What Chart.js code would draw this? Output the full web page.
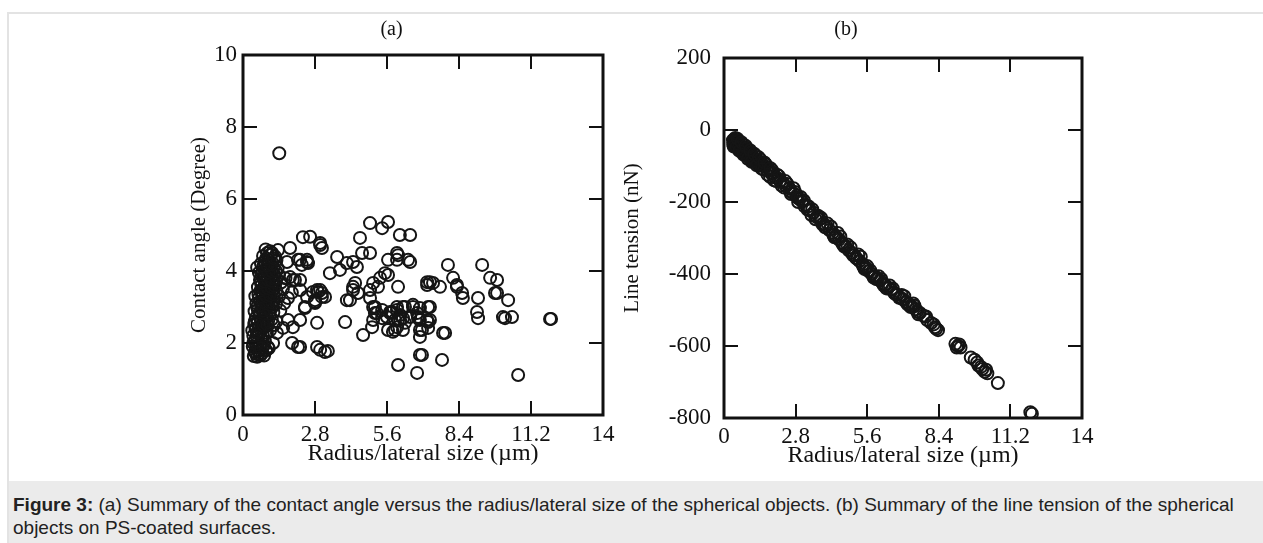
<!DOCTYPE html>
<html>
<head>
<meta charset="utf-8">
<script src="https://cdn.jsdelivr.net/npm/chart.js@4/dist/chart.umd.min.js"></script>
<style>
    body { margin: 0; width: 1263px; height: 543px; overflow: hidden; background: #fff; position: relative; }
    #frame { position: absolute; left: 7px; top: 12px; right: 0; bottom: 0; border-left: 2px solid #e3e3e3; border-top: 2px solid #e3e3e3; }
    #chartA { position: absolute; left: 180px; top: 0; }
    #chartB { position: absolute; left: 610px; top: 0; }
    #caption { position: absolute; left: 9px; top: 481px; right: 0; bottom: 0; background: #ebebeb;
        font-family: "Liberation Sans", Arial, sans-serif; font-size: 19px; color: #222; line-height: 23px; padding: 12px 0 0 4px; }
</style>
</head>
<body>
<div id="frame"></div>
<canvas id="chartA" width="486" height="480"></canvas>
<canvas id="chartB" width="586" height="480"></canvas>
<div id="caption"><b>Figure 3:</b> (a) Summary of the contact angle versus the radius/lateral size of the spherical objects. (b) Summary of the line tension of the spherical<br>objects on PS-coated surfaces.</div>
<script>
// tick labels
const radiusTicks = [0, 2.8, 5.6, 8.4, 11.2, 14];
const angleTicks = [0, 2, 4, 6, 8, 10];
const tensionTicks = [-800, -600, -400, -200, 0, 200];

// (a) contact angle vs radius
const angleRadius = [
    1.41, 2.33, 2.61, 3.0, 3.07, 4.55, 4.94, 5.41, 5.64, 6.1, 6.5,
    3.66, 3.38, 3.77, 4.04, 4.28, 4.43, 4.63, 4.94,
    4.04, 4.36, 4.28, 3.97, 4.67,
    5.06, 5.25, 5.33, 5.52, 5.64,
    5.06, 5.13, 5.06, 5.02,
    5.41, 5.79, 5.91, 6.11, 6.3, 5.99, 6.22,
    6.03, 5.99, 6.03, 6.42, 6.03, 5.99,
    6.61, 6.77, 6.88, 6.96, 6.88, 6.88, 6.77, 6.03,
    2.88, 2.41, 2.8, 2.92, 3.07, 2.88, 3.0, 3.19, 3.3, 1.91, 2.14, 2.22, 1.94,
    1.83, 2.02, 2.22, 2.49, 1.83, 2.14, 2.49, 1.36, 1.71,
    7.16, 7.66, 8.32, 8.52, 8.55, 9.14, 9.1, 9.14, 9.8, 10.31,
    10.11, 10.46, 10.19, 11.94, 11.98, 10.7,
    7.78, 6.96, 7.74,
    6.3, 6.61, 7.27, 5.72, 6.22, 6.81, 7.2, 5.91, 6.88,
    7.97, 9.3, 9.61, 9.88, 9.88, 7.27, 8.17, 8.32, 7.27, 7.2, 7.86,
    4.28, 4.16, 4.47, 4.94, 5.64, 5.99, 6.5,
    4.94, 5.13, 5.21, 5.41, 5.72, 5.64, 5.6,
    5.99, 6.22, 6.88, 7.2, 6.11, 6.5, 6.81, 7.16, 5.83,
    7.16, 7.39, 3.0, 2.22, 2.49, 2.72, 3.0, 3.19, 2.41, 2.8, 2.22,
    0.42, 0.55, 0.68, 0.82, 0.47, 0.6, 0.75, 0.9, 0.38, 0.52, 0.66, 0.8, 1.0, 0.45, 0.58,
    0.71, 0.85, 0.4, 0.53, 0.64, 0.78, 0.93, 0.36, 0.49, 0.62, 0.75, 0.88, 1.05, 1.2, 0.44,
    0.56, 0.7, 0.84, 0.98, 1.12, 1.3, 0.5, 0.63, 0.77, 0.9, 1.04, 1.18, 1.45, 0.45, 0.58,
    0.72, 0.86, 1.0, 1.14, 1.28, 1.6, 0.52, 0.66, 0.8, 0.94, 1.08, 1.22, 1.4, 1.75, 0.48,
    0.6, 0.74, 0.88, 1.02, 1.16, 1.3, 1.55, 1.9,
    0.58, 0.72, 0.86, 1.0, 1.14, 1.28, 1.48, 0.66, 0.8, 0.94, 1.08, 1.22, 1.4, 1.65, 0.62,
    0.76, 0.9, 1.04, 1.18, 1.35, 0.55, 0.7, 0.85, 1.0, 1.15, 1.3, 0.78, 0.95, 1.1, 1.25,
    0.88, 1.05,
    0.78, 1.13, 1.32, 1.56, 1.75, 0.97, 1.17, 2.29, 2.53, 1.94, 2.22, 2.88, 3.07, 2.8,
    0.5, 0.62, 0.4, 0.7, 0.58, 0.7, 0.46, 0.8, 0.95, 0.65, 0.78, 0.92, 1.06, 0.55, 0.7,
    0.86, 1.0, 1.15, 0.62, 0.76, 0.9, 1.05, 1.2, 0.68, 0.82, 0.96, 1.1, 1.24, 0.7, 0.84,
    0.98, 1.12, 1.3, 0.72, 0.86, 1.0, 1.14, 1.28, 0.8, 0.95, 1.1, 0.9, 1.2
];
const angleValues = [
    7.27, 4.94, 4.95, 4.78, 4.64, 4.92, 5.33, 5.19, 5.36, 5.0, 5.0,
    4.39, 3.94, 4.03, 4.22, 4.25, 4.11, 4.5, 4.5,
    3.19, 3.67, 3.56, 2.58, 2.22,
    3.67, 3.56, 3.81, 3.94, 3.89,
    3.0, 2.83, 2.64, 2.44,
    2.92, 2.86, 2.64, 2.78, 2.56, 2.44, 2.36,
    3.56, 3.0, 2.64, 4.31, 4.44, 4.31,
    3.0, 2.83, 2.64, 2.36, 2.17, 1.67, 1.17, 1.39,
    2.56, 3.0, 3.19, 3.42, 3.28, 1.89, 1.81, 1.75, 1.78, 2.0, 1.89, 2.64, 2.44,
    3.83, 3.75, 3.47, 3.28, 4.64, 4.31, 4.31, 4.58, 4.25,
    3.61, 3.56, 3.56, 3.39, 3.25, 3.25, 2.86, 2.69, 3.39, 3.19,
    2.72, 2.72, 2.69, 2.67, 2.67, 1.11,
    2.28, 1.67, 1.53,
    3.0, 3.06, 3.0, 2.83, 2.69, 2.72, 2.58, 2.36, 2.36,
    4.17, 4.17, 3.81, 3.75, 3.39, 3.69, 3.81, 3.61, 2.64, 2.42, 2.28,
    3.47, 3.19, 3.39, 3.47, 4.31, 4.5, 4.25,
    3.25, 3.0, 2.83, 2.69, 2.86, 2.36, 2.72,
    2.92, 3.0, 2.97, 3.0, 2.64, 2.72, 2.69, 2.64, 2.31,
    3.69, 3.67, 4.72, 4.31, 4.25, 3.42, 3.47, 3.28, 2.97, 3.14, 1.89,
    1.64, 1.62, 1.66, 1.65, 1.75, 1.78, 1.72, 1.8, 1.9, 1.88, 1.95, 1.92, 1.85, 2.05, 2.02,
    2.1, 2.05, 2.2, 2.18, 2.25, 2.2, 2.28, 2.35, 2.38, 2.42, 2.4, 2.45, 2.35, 2.5, 2.52,
    2.55, 2.6, 2.58, 2.62, 2.66, 2.6, 2.7, 2.75, 2.72, 2.8, 2.78, 2.85, 2.9, 2.88, 2.92,
    2.96, 3.0, 3.05, 3.0, 3.08, 3.1, 3.1, 3.15, 3.2, 3.18, 3.25, 3.2, 3.3, 3.25, 3.3,
    3.35, 3.38, 3.42, 3.4, 3.48, 3.45, 3.5, 3.4,
    3.55, 3.6, 3.58, 3.65, 3.62, 3.7, 3.68, 3.75, 3.8, 3.85, 3.82, 3.9, 3.88, 3.8, 3.95,
    4.0, 4.05, 4.02, 4.1, 4.08, 4.1, 4.2, 4.25, 4.3, 4.22, 4.3, 4.42, 4.5, 4.45, 4.4,
    4.6, 4.55,
    4.11, 4.5, 2.28, 2.42, 2.64, 1.89, 2.0, 4.17, 4.22, 3.75, 3.75, 3.47, 3.39, 3.11,
    1.7, 1.7, 2.0, 1.85, 2.3, 2.35, 2.6, 2.5, 2.5, 2.85, 2.9, 2.95, 2.9, 3.0, 3.05,
    3.1, 3.15, 3.12, 3.25, 3.28, 3.3, 3.32, 3.35, 3.45, 3.5, 3.52, 3.55, 3.58, 3.68, 3.7,
    3.75, 3.72, 3.8, 3.9, 3.92, 3.95, 3.98, 4.0, 4.15, 4.15, 4.18, 4.35, 4.35
];

// (b) line tension vs radius
const tensionRadius = [
    0.35, 0.38, 0.42, 0.45, 0.5, 0.54, 0.58, 0.62, 0.66, 0.7, 0.74, 0.78, 0.82, 0.86, 0.9,
    0.95, 1.0, 1.05, 1.1, 1.15, 1.2, 1.26, 1.32, 1.38, 1.45, 1.52, 1.6, 1.68, 1.76, 1.84,
    1.92, 2.0, 2.1, 2.2, 2.3, 2.42, 2.55, 2.7, 2.85, 2.95, 3.05,
    3.2, 3.35, 3.5, 3.62, 3.75, 3.88, 4.0, 4.12, 4.25, 4.38, 4.5, 4.62, 4.75, 4.88, 5.0,
    5.1, 5.2, 5.3, 5.42, 5.55, 5.65, 5.78,
    5.9, 6.0, 6.1, 6.2, 6.3, 6.42, 6.55, 6.65, 6.78, 6.9, 7.0, 7.12, 7.25, 7.38, 7.5, 7.66,
    7.8, 7.95, 8.1, 8.25, 8.37,
    9.05, 9.15, 9.25, 9.65, 9.8, 9.95, 10.1, 10.2, 10.3, 10.71, 11.98, 12.04,
    0.4, 0.46, 0.52, 0.6, 0.68, 0.76, 0.84, 0.92, 1.0, 1.1, 1.2, 1.3,
    0.36, 0.44, 0.48, 0.56, 0.64, 0.72, 0.8, 0.88, 0.96, 1.04, 1.12, 1.22, 1.34, 1.42, 1.56,
    1.64, 1.8, 1.88, 2.05, 2.15, 2.35, 2.48, 2.62, 2.78, 2.9, 3.12, 3.28, 3.45, 3.58, 3.8,
    3.95, 4.18, 4.32, 4.55, 4.7, 4.95, 5.15, 5.35, 5.5, 5.72, 5.95, 6.15, 6.35, 6.6, 6.85,
    7.05, 7.3, 7.45, 7.6, 7.9, 8.2, 8.3, 9.1, 9.2, 9.9, 10.05, 10.25,
    0.38, 0.52, 0.6, 0.68, 0.76, 0.85, 0.93, 1.02, 1.08, 1.18, 1.28, 1.36, 1.48, 1.58, 1.7,
    1.82, 1.96, 2.08, 2.25, 2.4, 2.58, 2.72, 2.88, 3.0, 3.15, 3.3, 3.42, 3.68, 3.85, 4.05,
    4.28, 4.45, 4.65, 4.82, 5.05, 5.25, 5.45, 5.6, 5.85, 6.05, 6.25, 6.48, 6.7, 6.95, 7.18,
    7.4, 7.55
];
const tensionValues = [
    -28, -36, -30, -40, -34, -44, -39, -50, -44, -55, -50, -60, -54, -64, -60,
    -70, -66, -74, -72, -80, -78, -86, -84, -94, -92, -100, -100, -110, -110, -120,
    -120, -132, -134, -142, -146, -156, -162, -175, -182, -192, -198,
    -208, -222, -230, -242, -248, -260, -266, -278, -285, -296, -304, -314, -322, -334, -342,
    -348, -358, -364, -374, -382, -392, -400,
    -406, -414, -418, -426, -430, -438, -444, -452, -458, -466, -470, -478, -484, -492, -498, -508,
    -516, -528, -536, -548, -556,
    -594, -600, -604, -632, -638, -654, -664, -672, -676, -703, -784, -788,
    -26, -30, -40, -42, -48, -54, -60, -64, -70, -76, -82, -90,
    -40, -22, -48, -30, -56, -40, -66, -50, -76, -62, -86, -70, -96, -82, -110,
    -96, -130, -112, -142, -128, -160, -150, -178, -172, -200, -196, -222, -220, -248, -244,
    -270, -268, -298, -296, -324, -326, -354, -352, -386, -390, -414, -414, -440, -440, -466,
    -462, -492, -488, -512, -518, -540, -552, -604, -596, -646, -658, -666,
    -46, -24, -58, -34, -68, -44, -80, -56, -88, -66, -98, -76, -108, -90, -124,
    -106, -140, -124, -154, -142, -170, -162, -188, -186, -212, -212, -236, -238, -262, -260,
    -292, -286, -318, -318, -348, -346, -380, -378, -410, -406, -432, -432, -456, -458, -484,
    -482, -504
];

const serif = '"Liberation Serif", "Times New Roman", serif';

// closed frame with ticks pointing inwards on all four sides
const boxFrame = {
    id: 'boxFrame',
    afterDraw(chart) {
        const ctx = chart.ctx;
        const a = chart.chartArea;
        const xs = chart.scales.x, ys = chart.scales.y;
        const len = 14;
        ctx.save();
        ctx.strokeStyle = '#111';
        ctx.lineWidth = 2;
        ctx.beginPath();
        xs.ticks.forEach(t => {
            const px = Math.round(xs.getPixelForValue(t.value));
            if (px <= a.left + 2 || px >= a.right - 2) return;
            ctx.moveTo(px, a.bottom); ctx.lineTo(px, a.bottom - len);
            ctx.moveTo(px, a.top); ctx.lineTo(px, a.top + len);
        });
        ys.ticks.forEach(t => {
            const py = Math.round(ys.getPixelForValue(t.value));
            if (py <= a.top + 2 || py >= a.bottom - 2) return;
            ctx.moveTo(a.left, py); ctx.lineTo(a.left + len, py);
            ctx.moveTo(a.right, py); ctx.lineTo(a.right - len, py);
        });
        ctx.stroke();
        ctx.lineWidth = 3;
        ctx.strokeRect(a.left, a.top, a.right - a.left, a.bottom - a.top);
        ctx.restore();
    }
};

function toPoints(xs, ys) {
    return xs.map((x, i) => ({ x: x, y: ys[i] }));
}

function makeChart(id, cfg) {
    return new Chart(document.getElementById(id), {
        type: 'scatter',
        data: {
            datasets: [{
                data: toPoints(cfg.xs, cfg.ys),
                pointStyle: 'circle',
                pointRadius: 6,
                pointBorderWidth: 2,
                borderColor: '#151515',
                backgroundColor: 'rgba(0,0,0,0)'
            }]
        },
        options: {
            responsive: false,
            animation: false,
            events: [],
            layout: { padding: { left: 0, right: cfg.side, top: 0, bottom: 0 } },
            plugins: {
                legend: { display: false },
                tooltip: { enabled: false },
                title: {
                    display: true,
                    text: cfg.title,
                    color: '#111',
                    font: { family: serif, size: 20, weight: 'normal', lineHeight: 1.2 },
                    padding: { top: 18, bottom: cfg.titleGap }
                }
            },
            scales: {
                x: {
                    type: 'linear',
                    min: 0, max: 14,
                    afterFit: s => { s.height = cfg.xHeight; },
                    afterBuildTicks: s => { s.ticks = radiusTicks.map(v => ({ value: v })); },
                    grid: { display: false, drawTicks: false },
                    border: { display: false },
                    ticks: {
                        color: '#111', padding: cfg.xPad, maxRotation: 0,
                        font: { family: serif, size: 23, lineHeight: 1.2 },
                        callback: v => String(v)
                    },
                    title: {
                        display: true,
                        text: 'Radius/lateral size (\u00b5m)',
                        color: '#111',
                        font: { family: serif, size: 24, lineHeight: 1.2 },
                        padding: { top: 0, bottom: cfg.xTitlePad }
                    }
                },
                y: {
                    type: 'linear',
                    min: cfg.yTicks[0], max: cfg.yTicks[cfg.yTicks.length - 1],
                    afterFit: s => { s.width = cfg.side; },
                    afterBuildTicks: s => { s.ticks = cfg.yTicks.map(v => ({ value: v })); },
                    grid: { display: false, drawTicks: false },
                    border: { display: false },
                    ticks: {
                        color: '#111', padding: cfg.yPad,
                        font: { family: serif, size: 23, lineHeight: 1.2 },
                        callback: v => String(v)
                    },
                    title: {
                        display: true,
                        text: cfg.yTitle,
                        color: '#111',
                        font: { family: serif, size: 21, lineHeight: 1.2 },
                        padding: { top: cfg.yTitlePad, bottom: 0 }
                    }
                }
            }
        },
        plugins: [boxFrame]
    });
}

makeChart('chartA', {
    xs: angleRadius, ys: angleValues, title: '(a)', titleGap: 13,
    side: 63, xHeight: 65, xPad: 6, xTitlePad: 12, yPad: 6, yTitlePad: 7,
    yTicks: angleTicks, yTitle: 'Contact angle (Degree)'
});

makeChart('chartB', {
    xs: tensionRadius, ys: tensionValues, title: '(b)', titleGap: 16,
    side: 114, xHeight: 62, xPad: 5, xTitlePad: 10, yPad: 13, yTitlePad: 10,
    yTicks: tensionTicks, yTitle: 'Line tension (nN)'
});
</script>
</body>
</html>
